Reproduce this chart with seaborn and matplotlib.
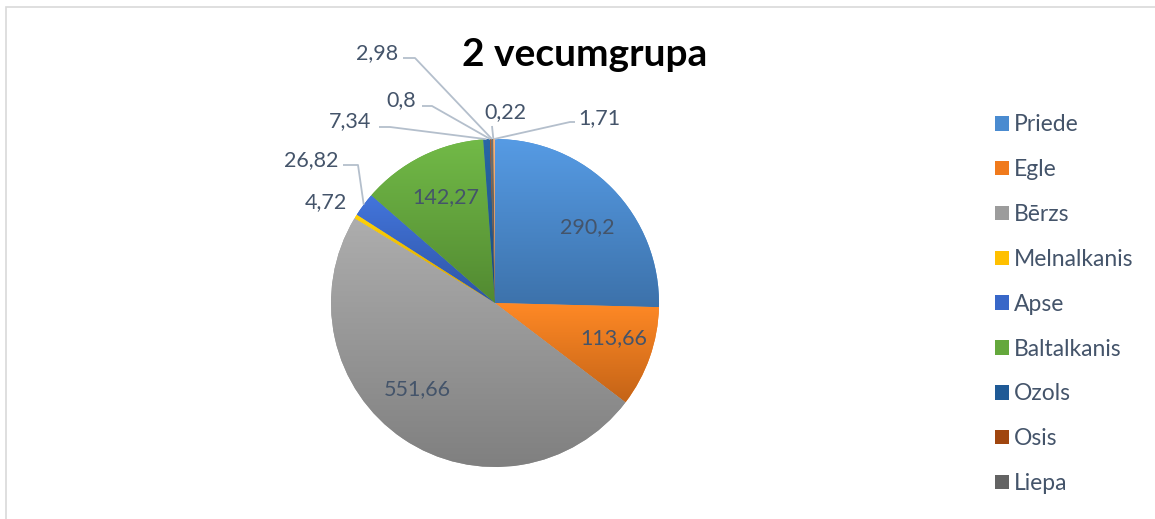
import matplotlib
matplotlib.use("Agg")
import matplotlib.pyplot as plt
import matplotlib.colors as mcolors
import numpy as np
import seaborn as sns
from matplotlib.patches import Rectangle

sns.set_theme(style="white")
plt.rcParams["font.family"] = ["Lato", "DejaVu Sans"]

# data
species = ["Priede", "Egle", "Bērzs", "Melnalkanis", "Apse", "Baltalkanis",
           "Ozols", "Osis", "Liepa", "Kļava", "Citas"]
volumes = [290.2, 113.66, 551.66, 4.72, 26.82, 142.27, 7.34, 0.8, 2.98, 0.22, 1.71]
value_text = ["290,2", "113,66", "551,66", "4,72", "26,82", "142,27",
              "7,34", "0,8", "2,98", "0,22", "1,71"]
legend_shown = 9  # the legend box only has room for the first nine

colors = ["#4A8BD0", "#F07A1C", "#9C9C9C", "#FFC000", "#3867C8", "#64A83C",
          "#1F5A96", "#A0460F", "#636363", "#997300", "#E9A06B"]
txt_col = "#44546A"
line_col = "#B4BFCC"

W, H = 1155, 519
fig = plt.figure(figsize=(W / 100, H / 100), dpi=100)
fig.patch.set_facecolor("white")
ax = fig.add_axes([0, 0, 1, 1])
ax.set_xlim(0, W)
ax.set_ylim(0, H)


def fy(y):
    # image row -> data y
    return H - y


cx, cy, R = 495, fy(303), 164
wedges, _ = ax.pie(volumes, colors=colors, startangle=90, counterclock=False,
                   center=(cx, cy), radius=R, frame=True,
                   wedgeprops=dict(linewidth=0, antialiased=True))
ax.set_xlim(0, W)
ax.set_ylim(0, H)
ax.set_aspect("equal")
ax.axis("off")

# vertical gradient on each slice
grad = np.linspace(0, 1, 64).reshape(-1, 1)
for w, c in zip(wedges, colors):
    base = np.array(mcolors.to_rgb(c))
    top = np.clip(base * 1.06 + 0.03, 0, 1)
    bot = base * 0.82
    img = top[None, None, :] * (1 - grad[:, :, None]) + bot[None, None, :] * grad[:, :, None]
    ext = w.get_path().get_extents()
    im = ax.imshow(img, extent=(ext.x0, ext.x1, ext.y0, ext.y1), origin="upper",
                   aspect="auto", interpolation="bilinear", zorder=w.get_zorder() + 0.1)
    im.set_clip_path(w)


def edge_point(w, rr=1.0):
    a = np.deg2rad((w.theta1 + w.theta2) / 2)
    return cx + R * rr * np.cos(a), cy + R * rr * np.sin(a)


# labels inside the big slices (image positions)
inside = {0: (587, 227), 1: (614, 338), 2: (417, 389), 5: (446, 197)}
for i, (tx, ty) in inside.items():
    ax.text(tx, fy(ty), value_text[i], ha="center", va="center", fontsize=15.5,
            color=txt_col, zorder=5)

# outside labels: (text anchor x, text y, ha, elbow points)
outside = {
    3: (347, 202, "right", []),
    4: (338, 160, "right", [(343, 165), (358, 165)]),
    6: (371, 121, "right", [(379, 127), (390, 127)]),
    7: (416, 100, "right", [(422, 106), (432, 106)]),
    8: (398, 53, "right", [(403, 58), (415, 58)]),
    9: (505, 112, "center", [(492, 126)]),
    10: (578, 118, "left", [(575, 122), (570, 122)]),
}
for i, (tx, ty, ha, pts) in outside.items():
    ax.text(tx, fy(ty), value_text[i], ha=ha, va="center", fontsize=15.5,
            color=txt_col, zorder=5)
    if pts:
        ex, ey = edge_point(wedges[i])
        xs = [p[0] for p in pts] + [ex]
        ys = [fy(p[1]) for p in pts] + [ey]
        ax.plot(xs, ys, color=line_col, lw=1.3, zorder=3, solid_capstyle="butt")

ax.text(585, fy(55), "2 vecumgrupa", ha="center", va="center", fontsize=28,
        fontweight="bold", color="black")

leg = ax.legend(wedges[:legend_shown], species[:legend_shown], loc="upper left",
                bbox_to_anchor=(984 / W, 1 - 103 / H), bbox_transform=fig.transFigure,
                frameon=False, fontsize=16.5, labelcolor=txt_col, borderpad=0,
                handlelength=0.6, handleheight=0.6, handletextpad=0.22,
                labelspacing=1.04)

# chart border (right and bottom edges fall outside the crop)
fig.patches.append(Rectangle((5.5 / W, -0.1), 1.2, 1.1 - 7.5 / H,
                             transform=fig.transFigure, fill=False,
                             edgecolor="#D9D9D9", lw=1.2))

fig.savefig("out.png", dpi=100, facecolor="white")
